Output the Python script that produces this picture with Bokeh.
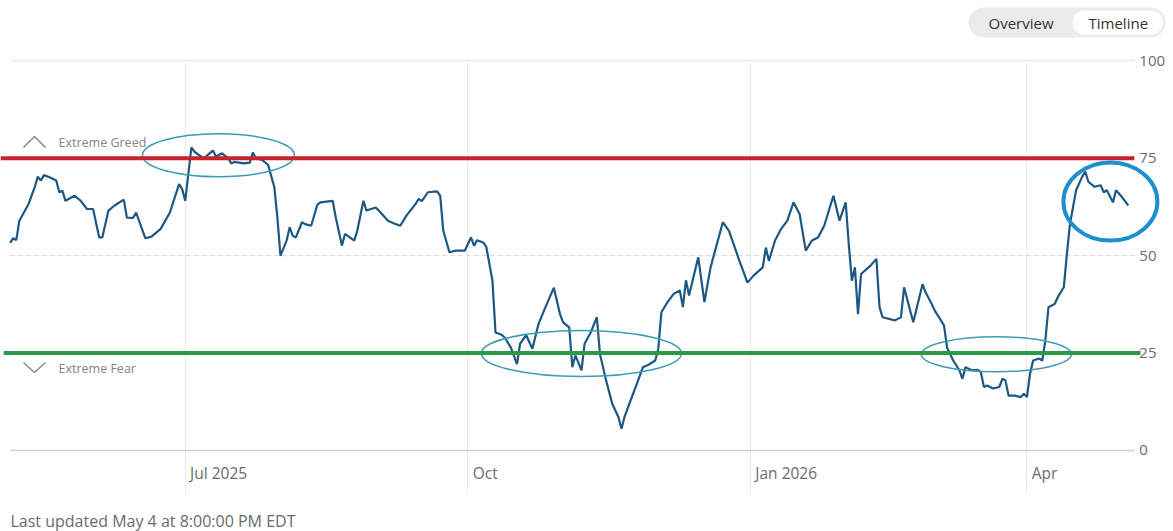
import pandas as pd
from bokeh.plotting import figure
from bokeh.models import Label, FixedTicker, Range1d, PolyAnnotation, Grid
from bokeh.embed import file_html
from bokeh.resources import INLINE

# ---- data ----
dates = [
    "2025-05-05", "2025-05-06", "2025-05-07", "2025-05-08", "2025-05-11", "2025-05-13", "2025-05-14",
    "2025-05-15", "2025-05-16", "2025-05-18", "2025-05-20", "2025-05-21", "2025-05-22", "2025-05-23",
    "2025-05-26", "2025-05-28", "2025-05-30", "2025-06-01", "2025-06-03", "2025-06-04", "2025-06-06",
    "2025-06-08", "2025-06-11", "2025-06-12", "2025-06-14", "2025-06-15", "2025-06-18", "2025-06-20",
    "2025-06-23", "2025-06-26", "2025-06-29", "2025-06-30", "2025-07-01", "2025-07-03", "2025-07-04",
    "2025-07-07", "2025-07-10", "2025-07-11", "2025-07-13", "2025-07-15", "2025-07-16", "2025-07-17",
    "2025-07-20", "2025-07-22", "2025-07-23", "2025-07-24", "2025-07-26", "2025-07-28", "2025-07-30",
    "2025-07-31", "2025-08-01", "2025-08-03", "2025-08-04", "2025-08-05", "2025-08-06", "2025-08-08",
    "2025-08-09", "2025-08-11", "2025-08-13", "2025-08-14", "2025-08-18", "2025-08-19", "2025-08-21",
    "2025-08-22", "2025-08-25", "2025-08-26", "2025-08-28", "2025-08-29", "2025-09-01", "2025-09-02",
    "2025-09-05", "2025-09-07", "2025-09-09", "2025-09-11", "2025-09-14", "2025-09-15", "2025-09-16",
    "2025-09-18", "2025-09-21", "2025-09-22", "2025-09-23", "2025-09-25", "2025-09-27", "2025-09-30",
    "2025-10-02", "2025-10-03", "2025-10-04", "2025-10-06", "2025-10-07", "2025-10-09", "2025-10-10",
    "2025-10-12", "2025-10-13", "2025-10-15", "2025-10-17", "2025-10-18", "2025-10-20", "2025-10-22",
    "2025-10-24", "2025-10-26", "2025-10-29", "2025-10-31", "2025-11-01", "2025-11-03", "2025-11-04",
    "2025-11-05", "2025-11-07", "2025-11-08", "2025-11-10", "2025-11-12", "2025-11-13", "2025-11-15",
    "2025-11-17", "2025-11-19", "2025-11-20", "2025-11-21", "2025-11-23", "2025-11-25", "2025-11-27",
    "2025-11-29", "2025-12-01", "2025-12-02", "2025-12-03", "2025-12-05", "2025-12-07", "2025-12-09",
    "2025-12-10", "2025-12-11", "2025-12-12", "2025-12-15", "2025-12-17", "2025-12-19", "2025-12-23",
    "2025-12-25", "2025-12-28", "2025-12-30", "2025-12-31", "2026-01-02", "2026-01-05", "2026-01-06",
    "2026-01-07", "2026-01-09", "2026-01-11", "2026-01-13", "2026-01-15", "2026-01-17", "2026-01-19",
    "2026-01-21", "2026-01-23", "2026-01-25", "2026-01-28", "2026-01-30", "2026-02-01", "2026-02-02",
    "2026-02-03", "2026-02-04", "2026-02-05", "2026-02-06", "2026-02-09", "2026-02-10", "2026-02-11",
    "2026-02-12", "2026-02-13", "2026-02-17", "2026-02-19", "2026-02-20", "2026-02-22", "2026-02-23",
    "2026-02-26", "2026-02-27", "2026-03-01", "2026-03-02", "2026-03-04", "2026-03-05", "2026-03-06",
    "2026-03-08", "2026-03-10", "2026-03-11", "2026-03-12", "2026-03-14", "2026-03-16", "2026-03-17",
    "2026-03-18", "2026-03-19", "2026-03-21", "2026-03-23", "2026-03-24", "2026-03-25", "2026-03-26",
    "2026-03-28", "2026-03-30", "2026-03-31", "2026-04-01", "2026-04-02", "2026-04-03", "2026-04-05",
    "2026-04-06", "2026-04-07", "2026-04-08", "2026-04-10", "2026-04-11", "2026-04-13", "2026-04-14",
    "2026-04-15", "2026-04-17", "2026-04-19", "2026-04-20", "2026-04-21", "2026-04-23", "2026-04-25",
    "2026-04-26", "2026-04-27", "2026-04-29", "2026-04-30", "2026-05-02", "2026-05-04",
]
values = [
    53.3, 54.5, 54.0, 59.0, 63.3, 67.6, 70.3,
    69.3, 70.7, 70.1, 69.3, 66.3, 66.7, 64.1,
    65.4, 64.1, 62.0, 62.0, 54.7, 54.7, 61.6,
    62.9, 64.4, 59.8, 59.7, 61.1, 54.5, 54.9,
    56.9, 61.1, 68.4, 67.1, 64.1, 77.8, 76.7,
    75.0, 77.0, 75.5, 76.3, 75.0, 73.7, 74.1,
    73.7, 73.9, 76.5, 75.0, 74.6, 73.3, 67.6,
    59.8, 50.0, 53.9, 57.3, 55.1, 54.7, 58.6,
    58.1, 57.7, 63.1, 63.7, 64.1, 59.8, 52.6,
    55.6, 53.9, 56.4, 64.1, 61.6, 62.4, 61.6,
    59.0, 58.3, 57.7, 60.3, 63.3, 64.6, 64.0,
    66.3, 66.5, 65.4, 56.4, 50.9, 51.3, 51.3,
    54.7, 52.6, 54.0, 53.4, 52.3, 43.6, 30.3,
    29.7, 29.0, 26.4, 22.2, 27.4, 29.6, 26.1,
    32.5, 36.3, 41.8, 35.0, 32.9, 31.6, 21.4,
    24.4, 20.6, 27.4, 30.3, 34.2, 24.8, 18.0,
    12.0, 8.6, 5.6, 8.6, 12.9, 17.1, 21.4,
    22.1, 23.1, 26.1, 35.5, 38.1, 40.2, 41.1,
    36.8, 43.7, 39.8, 49.6, 38.1, 47.0, 58.6,
    56.4, 49.6, 45.3, 43.1, 44.9, 47.0, 52.1,
    48.7, 53.9, 56.9, 59.0, 63.7, 60.7, 51.3,
    53.9, 54.7, 57.7, 65.4, 59.0, 63.7, 53.0,
    43.6, 47.0, 35.0, 45.3, 47.4, 48.3, 49.2,
    36.8, 34.2, 33.4, 34.2, 41.9, 35.9, 32.9,
    42.7, 40.6, 37.6, 35.9, 33.4, 32.1, 26.4,
    23.1, 20.6, 18.4, 21.4, 20.6, 20.7, 20.1,
    16.3, 16.7, 15.9, 16.3, 18.4, 18.0, 14.1,
    14.1, 13.7, 14.6, 13.7, 19.7, 23.1, 23.6,
    23.1, 28.3, 36.8, 37.6, 39.3, 41.9, 50.4,
    58.1, 66.8, 70.3, 71.6, 69.0, 67.7, 68.1,
    66.3, 66.8, 63.7, 66.8, 65.0, 62.9,
]

tick_dates = ["2025-07-01", "2025-10-01", "2026-01-01", "2026-04-01"]
tick_labels = ["Jul 2025", "Oct", "Jan 2026", "Apr"]
y_ticks = [0, 25, 50, 75, 100]
greed_level = 75
fear_level = 25

# hand-drawn highlight ellipses (centre date, centre value)
ring_dates = ["2025-07-11 19:00", "2025-11-06 23:00", "2026-03-22 01:00"]
ring_values = [75.8, 24.9, 24.7]
circle_date = ["2026-04-28 04:00"]
circle_value = [63.9]

FONT = "Open Sans"
GREY = "#6b6b6b"


def ms(t):
    return float(pd.Timestamp(t).value // 10**6)


x = pd.to_datetime(dates)
tick_ts = [pd.Timestamp(d) for d in tick_dates]
tick_ms = [ms(t) for t in tick_ts]
# labels sit just right of their month rule
label_ms = [ms(t + pd.Timedelta(hours=38)) for t in tick_ts]

view_start = pd.Timestamp("2025-05-01 20:40")
view_end = pd.Timestamp("2026-05-18 17:00")
plot_end = pd.Timestamp("2026-05-05 23:00")

p = figure(
    width=1173, height=531, x_axis_type="datetime",
    x_range=Range1d(view_start, view_end), y_range=Range1d(-20.8, 115.53),
    y_axis_location="right",
    output_backend="svg", toolbar_location=None,
    min_border_left=0, min_border_right=0, min_border_top=0, min_border_bottom=0,
    outline_line_color=None, background_fill_color="white", border_fill_color="white",
)

# x axis drawn on the zero line, labels left-aligned after each month rule
xa = p.xaxis[0]
xa.fixed_location = 0
xa.ticker = FixedTicker(ticks=label_ms)
xa.major_label_overrides = {m: lab for m, lab in zip(label_ms, tick_labels)}
xa.minor_tick_line_color = None
xa.major_tick_line_color = None
xa.major_tick_in = 0
xa.major_tick_out = 0
xa.axis_line_color = "#cfcfcf"
xa.axis_line_width = 1.5
xa.bounds = (ms(x[0]), ms(plot_end))
xa.major_label_orientation = -1e-6
xa.major_label_standoff = 23
xa.major_label_text_font = FONT
xa.major_label_text_font_size = "15.5px"
xa.major_label_text_color = GREY

ya = p.yaxis[0]
ya.fixed_location = ms(plot_end)
ya.ticker = FixedTicker(ticks=y_ticks)
ya.axis_line_color = None
ya.major_tick_line_color = None
ya.minor_tick_line_color = None
ya.major_tick_in = 0
ya.major_tick_out = 0
ya.major_label_standoff = 5
ya.major_label_text_font = FONT
ya.major_label_text_font_size = "15px"
ya.major_label_text_color = GREY

# vertical month rules from the 100 line down below the axis
p.xgrid.ticker = FixedTicker(ticks=tick_ms)
p.xgrid.grid_line_color = "#ebebeb"
p.xgrid.cross_bounds = (-11.0, 100.0)
# dashed 50 line and solid 100 line
p.ygrid.ticker = FixedTicker(ticks=[50])
p.ygrid.grid_line_color = "#d5d5d5"
p.ygrid.grid_line_dash = "4 4"
p.ygrid.cross_bounds = (ms(x[0]), ms(plot_end))
p.add_layout(Grid(dimension=1, ticker=FixedTicker(ticks=[100]), grid_line_color="#ececec",
                  grid_line_width=1.5, cross_bounds=(ms(x[0]), ms(plot_end))))

# data line
p.line(x, values, line_color="#1d5882", line_width=2.2)

# highlight rings
p.ellipse(x=pd.to_datetime(ring_dates), y=ring_values, width=[152, 200, 150], height=[43, 46, 35],
          width_units="screen", height_units="screen", fill_color=None,
          line_color="#3c9bb5", line_width=1.5)

# extreme greed / fear lines
p.segment(x0=[view_start], y0=[greed_level], x1=[plot_end], y1=[greed_level],
          line_color="#c8232d", line_width=4)
p.segment(x0=[view_start + pd.Timedelta(days=1)], y0=[fear_level], x1=[plot_end + pd.Timedelta(days=2)],
          y1=[fear_level], line_color="#2c9a47", line_width=4)

p.ellipse(x=pd.to_datetime(circle_date), y=circle_value, width=94, height=78,
          width_units="screen", height_units="screen", fill_color=None,
          line_color="#1b8fcf", line_width=4)

# labels with chevrons
p.add_layout(Label(x=58, y=389, x_units="screen", y_units="screen", text="Extreme Greed",
                   text_baseline="middle", text_font=FONT, text_font_size="12.5px", text_color="#858585"))
p.add_layout(Label(x=58, y=163, x_units="screen", y_units="screen", text="Extreme Fear",
                   text_baseline="middle", text_font=FONT, text_font_size="12.5px", text_color="#858585"))
p.add_layout(PolyAnnotation(xs=[23, 34, 45, 34], ys=[384, 395, 384, 395], xs_units="screen", ys_units="screen",
                            fill_color=None, line_color="#8a8a8a", line_alpha=1.0, line_width=1.5))
p.add_layout(PolyAnnotation(xs=[23, 34, 45, 34], ys=[169, 159, 169, 159], xs_units="screen", ys_units="screen",
                            fill_color=None, line_color="#8a8a8a", line_alpha=1.0, line_width=1.5))

# footer
p.add_layout(Label(x=10, y=11, x_units="screen", y_units="screen", text="Last updated May 4 at 8:00:00 PM EDT",
                   text_baseline="middle", text_font=FONT, text_font_size="16px", text_color=GREY))

# Overview / Timeline toggle
p.add_layout(Label(x=968, y=509, x_units="screen", y_units="screen", text="Overview",
                   text_baseline="middle", text_font=FONT, text_font_size="15px", text_color="#333333",
                   background_fill_color="#ebebeb", padding=dict(left=20, right=112, top=5, bottom=5),
                   border_radius=15))
p.add_layout(Label(x=1072, y=509, x_units="screen", y_units="screen", text="Timeline",
                   text_baseline="middle", text_font=FONT, text_font_size="15px", text_color="#333333",
                   background_fill_color="white", padding=dict(left=16, right=15, top=2, bottom=2),
                   border_radius=12))

open("out.html", "w").write(file_html(p, INLINE))
